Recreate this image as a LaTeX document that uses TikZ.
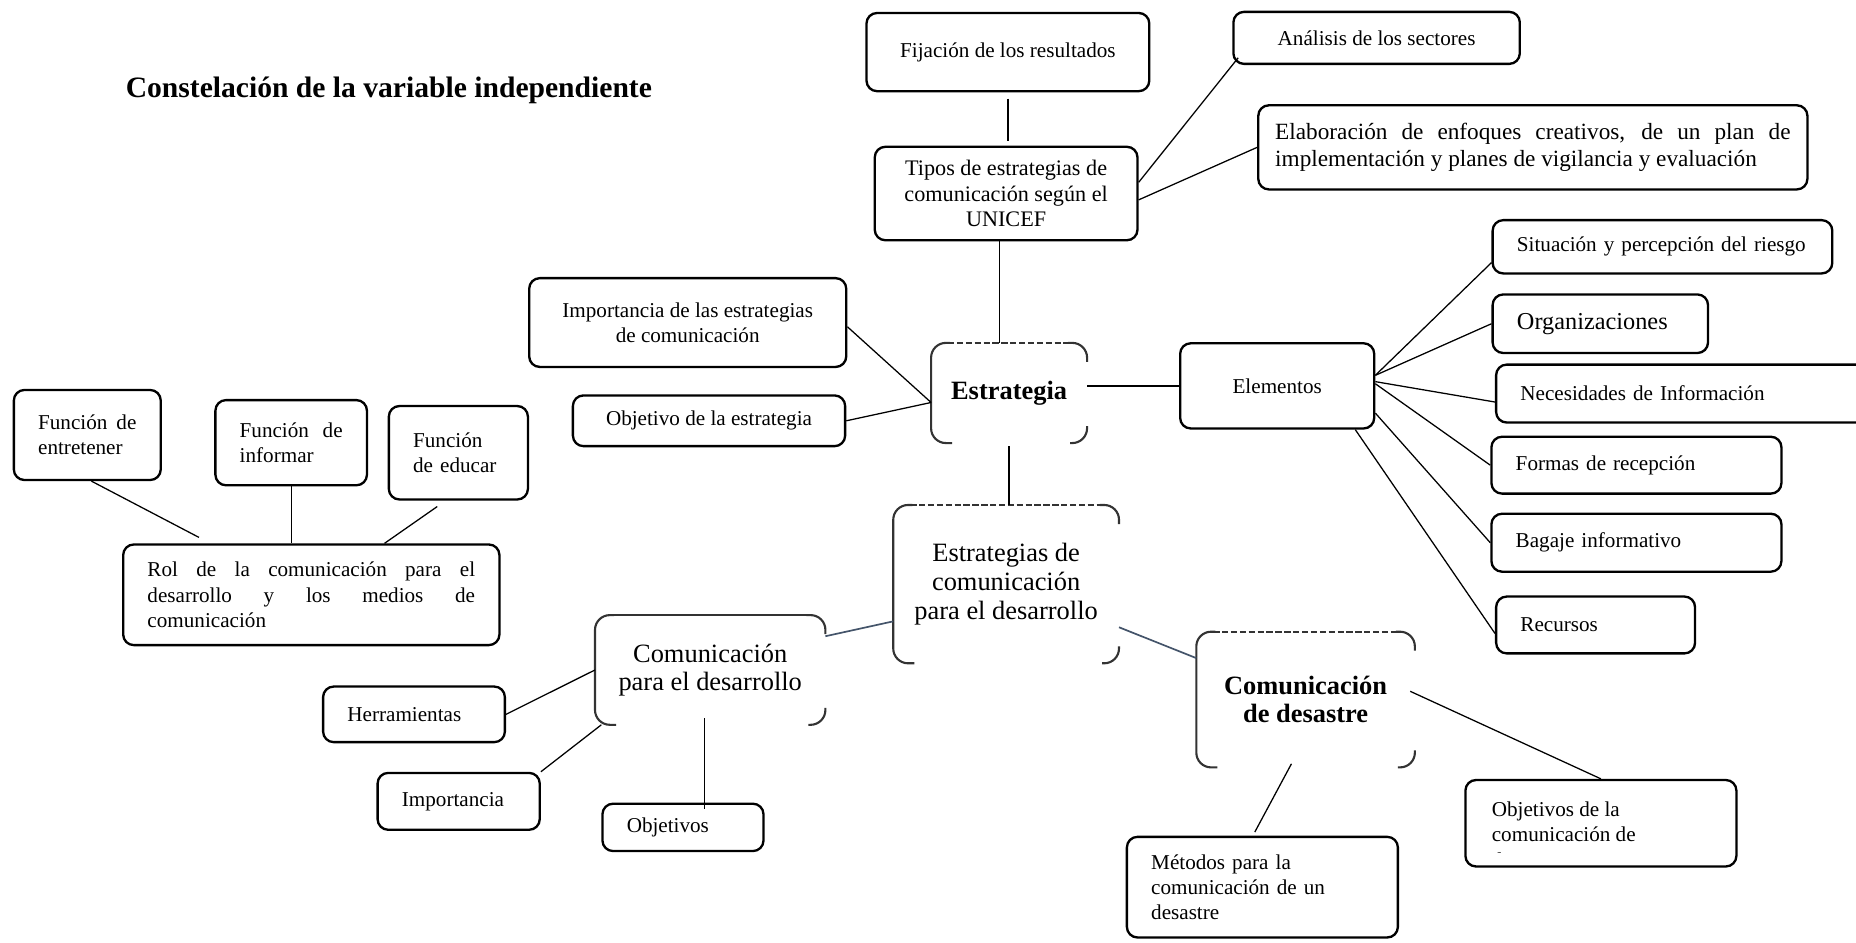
\documentclass[tikz,border=0pt]{standalone}
\usepackage{fontspec}
\setmainfont{Liberation Serif}
\usetikzlibrary{positioning, calc}
\definecolor{slate}{RGB}{68,84,106}
\tolerance=10000 \hbadness=10000
\hyphenpenalty=10000 \exhyphenpenalty=10000
\tikzset{
x=0.56pt, y=-0.56pt, % one unit is one pixel of the sketch, y runs downwards
box/.style={draw, line width=1.1pt, rounded corners=5pt, inner ysep=2pt, align=center, font=\fontsize{10}{12}\selectfont}, % plain rounded box
lbox/.style={box, align=left, inner xsep=11.5pt}, % text flush left
jbox/.style={box, align=justify, inner xsep=11.5pt}, % justified text
core/.style={inner sep=0pt, align=center, font=\fontsize{12.5}{13.5}\selectfont}, % the four big shapes
rim/.style={line width=1pt, black!80, rounded corners=7pt}, % their half drawn outline
dashtop/.style={dash pattern=on 3pt off 1.2pt},
link/.style={line width=0.6pt}, % thin connectors
blink/.style={link, slate, line width=0.8pt},
}
% outline of the big shapes: left side and corners only, top in style #2
\newcommand{\brokenframe}[2]{%
  \draw[rim] ([xshift=10pt]#1.south west) -- (#1.south west) -- (#1.north west) -- ([xshift=9pt]#1.north west);
  \draw[rim, #2] ([xshift=8pt]#1.north west) -- ([xshift=-8pt]#1.north east);
  \draw[rim] ([xshift=-9pt]#1.north east) -- (#1.north east) -- ([yshift=-9pt]#1.north east);
  \draw[rim] ([xshift=-8pt]#1.south east) -- (#1.south east) -- ([yshift=8pt]#1.south east);
}

\begin{document}
\begin{tikzpicture}
  \useasboundingbox (0,0) rectangle (1568,796);
  \clip (0,0) rectangle (1568,796);

  \node[anchor=west, font=\fontsize{14}{16}\selectfont\bfseries] (title) at (100,76) {Constelación de la variable independiente};

  % upper branch
  \node[box, minimum width=133.8pt, minimum height=37pt] (fix) at (851.5,44) {Fijación de los resultados};
  \node[box, minimum width=135.5pt, minimum height=24.6pt] (ana) at (1163,32) {Análisis de los sectores};
  \node[jbox, inner xsep=8pt, text width=243.8pt, minimum height=39.8pt, font=\fontsize{11}{13}\selectfont] (ela) at (1295,124.5) {Elaboración de enfoques creativos, de un plan de\linebreak implementación y planes de vigilancia y evaluación};
  \node[box, minimum width=124.3pt, minimum height=44.2pt, font=\fontsize{10.5}{12}\selectfont] (tipos) at (850,163.5) {Tipos de estrategias de\\comunicación según el\\UNICEF};

  % Estrategia and its boxes
  \node[core, minimum width=73.4pt, minimum height=47pt, font=\fontsize{12.5}{13.5}\selectfont\bfseries] (estr) at (852.5,332) {Estrategia};
  \node[box, minimum width=150pt, minimum height=42pt] (imp) at (581,272.5) {Importancia de las estrategias\\de comunicación};
  \node[box, minimum width=128.8pt, minimum height=24pt] (obj) at (599,355.5) {Objetivo de la estrategia};
  \node[box, minimum width=91.8pt, minimum height=40.3pt] (elem) at (1079,326) {Elementos};

  % elements
  \node[lbox, text width=137.7pt, minimum height=25.2pt] (sit) at (1404.5,208.5) {Situación y percepción del riesgo};
  \node[lbox, text width=78.9pt, minimum height=27.7pt, font=\fontsize{11.5}{13}\selectfont] (org) at (1352,273.5) {Organizaciones};
  \node[lbox, text width=176.4pt, minimum height=27.4pt] (nec) at (1442,332.5) {Necesidades de Información};
  \node[lbox, text width=114.2pt, minimum height=26.9pt] (form) at (1382.5,393) {Formas de recepción};
  \node[lbox, text width=114.2pt, minimum height=27.4pt] (bag) at (1382.5,458.5) {Bagaje informativo};
  \node[lbox, text width=71.1pt, minimum height=26.9pt] (rec) at (1348,528) {Recursos};

  % centre and the two lower shapes
  \node[core, minimum width=106.4pt, minimum height=74.5pt] (cen) at (850,493.5) {Estrategias de\\comunicación\\para el desarrollo};
  \node[core, minimum width=108.6pt, minimum height=51.5pt] (comdes) at (600,566) {Comunicación\\para el desarrollo};
  \node[core, minimum width=103pt, minimum height=63.8pt, font=\fontsize{12.5}{13.5}\selectfont\bfseries] (dis) at (1103,591) {Comunicación\\de desastre};
  \brokenframe{estr}{dashtop}
  \brokenframe{cen}{dashtop}
  \brokenframe{comdes}{solid}
  \brokenframe{dis}{dashtop}

  % left branch
  \node[jbox, text width=46.5pt, minimum height=42.6pt] (fent) at (73.75,367.5) {Función de\linebreak entretener};
  \node[jbox, text width=48.7pt, minimum height=40.3pt] (finf) at (246,374) {Función de\linebreak informar};
  \node[lbox, text width=42.8pt, minimum height=44.2pt] (fedu) at (387.25,382.5) {Función\\de educar};
  \node[jbox, text width=155pt, minimum height=47.6pt] (rol) at (263,502.5) {Rol de la comunicación para el\linebreak desarrollo y los medios de\linebreak comunicación};
  \node[lbox, text width=63pt, minimum height=26.3pt] (herr) at (349.75,603.5) {Herramientas};
  \node[lbox, text width=53.7pt, minimum height=26.9pt] (impo) at (387.5,677) {Importancia};
  \node[lbox, text width=53.2pt, minimum height=22.4pt] (objs) at (577,699) {Objetivos};

  % disaster branch
  \node[lbox, text width=105.2pt, minimum height=47.6pt] (met) at (1066.5,749.5) {Métodos para la\\comunicación de un\\desastre};
  \node[box, minimum width=128.2pt, minimum height=40.9pt] (objcom) at (1352.5,695.5) {};
  \begin{scope}
    \clip (1238,659) rectangle (1467,720.5);
    \node[anchor=west, align=left, inner sep=0pt, font=\fontsize{10}{12}\selectfont] (objcomtxt) at (1260,705) {Objetivos de la\\comunicación de\\desastre};
  \end{scope}

  % connectors
  \draw[link, shorten <=3pt, shorten >=2pt] (fix.south) -- (fix.south |- tipos.north);
  \draw[link] ([yshift=5.3pt]tipos.east) -- ([xshift=2.8pt,yshift=3.4pt]ana.south west);
  \draw[link] ([yshift=-3pt]tipos.east) -- (ela.west);
  \draw[link] ([xshift=-3.1pt]tipos.south) -- ([xshift=-3.1pt]tipos.south |- estr.north);
  \draw[link] ([yshift=-2pt]imp.east) -- ([yshift=-4.5pt]estr.west);
  \draw[link] (obj.east) -- ([yshift=-4.5pt]estr.west);
  \draw[link] (elem.west -| estr.east) -- (elem.west);
  \draw[link, shorten <=1.5pt] (estr.south) -- (estr.south |- cen.north);
  \draw[link] ([yshift=5pt]elem.east) -- ([yshift=-7.5pt]sit.west);
  \draw[link] ([yshift=5pt]elem.east) -- (org.west);
  \draw[link] ([yshift=2pt]elem.east) -- ([yshift=-4pt]nec.west);
  \draw[link] ([yshift=1pt]elem.east) -- (form.west);
  \draw[link] ([yshift=-12.9pt]elem.east) -- (bag.west);
  \draw[link] ([xshift=-9.5pt]elem.south east) -- ([yshift=-4pt]rec.west);
  \draw[blink] ([yshift=-17.6pt]cen.west) -- ([yshift=-10pt]comdes.north east);
  \draw[blink] ([yshift=-20.4pt]cen.east) -- ([yshift=19.6pt]dis.west);
  \draw[link] (comdes.west) -- (herr.east);
  \draw[link] ([xshift=3pt]comdes.south west) -- (impo.north east);
  \draw[link] ([xshift=-2.8pt,yshift=3pt]comdes.south) -- ([xshift=-2.8pt,yshift=-3pt]comdes.south |- objs.north);
  \draw[link] ([xshift=2pt]fent.south) -- ([xshift=36.4pt,yshift=2.8pt]rol.north west);
  \draw[link] (finf.south) -- (finf.south |- rol.north);
  \draw[link] ([xshift=-10pt,yshift=-2.8pt]fedu.south) -- ([xshift=-54.9pt]rol.north east);
  \draw[link] ([xshift=-2.2pt,yshift=3.9pt]dis.east) -- (objcom.north);
  \draw[link] ([xshift=-6.7pt,yshift=1.7pt]dis.south) -- ([xshift=-3.6pt,yshift=1.7pt]met.north);
\end{tikzpicture}
\end{document}
